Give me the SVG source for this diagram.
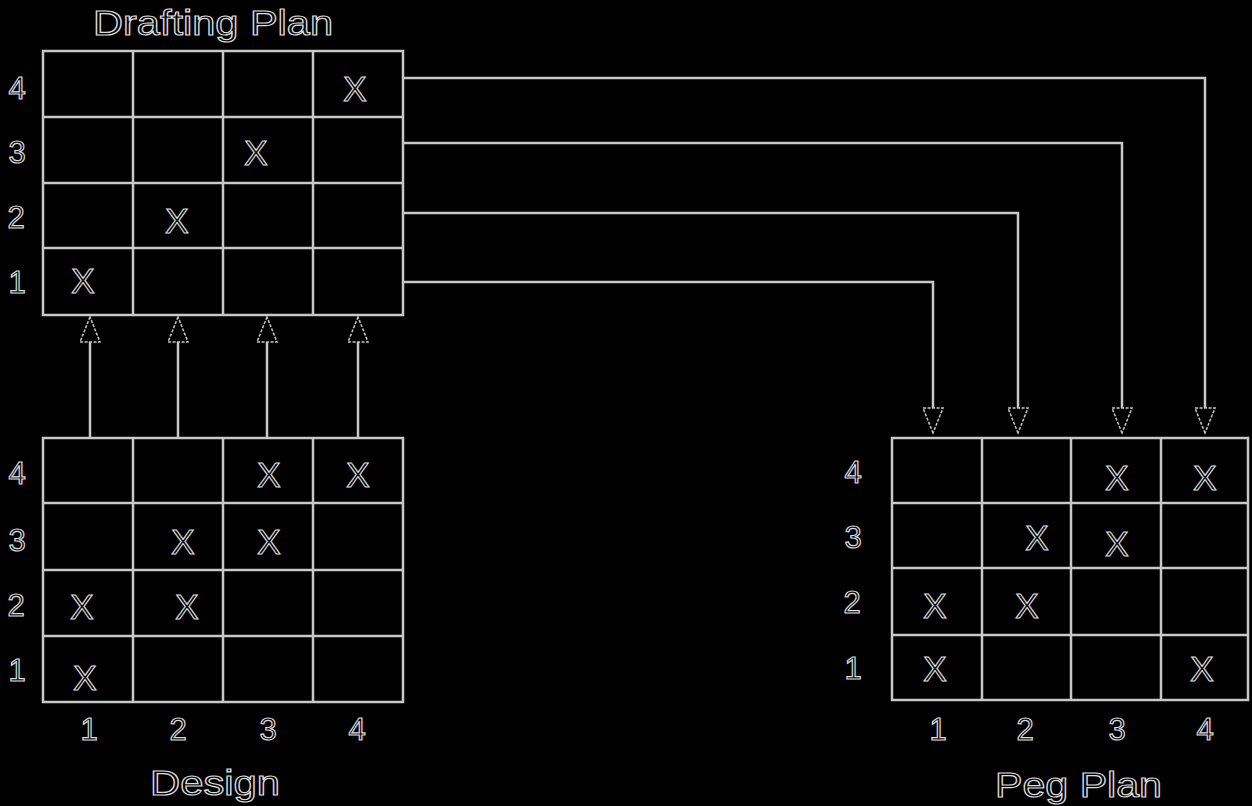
<svg xmlns="http://www.w3.org/2000/svg" width="1252" height="806" viewBox="0 0 1252 806">
<defs>
<style>
.g{fill:none;stroke:#c8c8c8;stroke-width:2.5}
.c{fill:none;stroke:#c8c8c8;stroke-width:2.5}
.ah{fill:#000;stroke:#c8c8c8;stroke-width:1.5;stroke-dasharray:3 1.5}
.t{font-family:"Liberation Sans",Arial,sans-serif;fill:#000;stroke:#dcdcdc;stroke-width:1.2}
.d{font-size:31px;text-anchor:middle;dominant-baseline:central}
.x{font-size:35px;text-anchor:middle;dominant-baseline:central}
.h{font-size:35px}
</style>
</defs>
<rect x="0" y="0" width="1252" height="806" fill="#000"/>

<g id="drafting-plan">
<text class="t h" x="93" y="35" textLength="240" lengthAdjust="spacingAndGlyphs">Drafting Plan</text>
<rect class="g" x="43" y="51" width="360" height="264"/>
<path class="g" d="M133 51V315M223 51V315M313 51V315M43 117H403M43 183H403M43 248H403"/>
<text class="t d" x="17" y="88">4</text>
<text class="t d" x="17" y="152">3</text>
<text class="t d" x="16" y="217">2</text>
<text class="t d" x="17" y="282">1</text>
<text class="t x" x="355" y="88">X</text>
<text class="t x" x="256" y="152">X</text>
<text class="t x" x="177" y="220">X</text>
<text class="t x" x="83" y="280">X</text>
</g>

<g id="design">
<rect class="g" x="43" y="438" width="360" height="264"/>
<path class="g" d="M133 438V702M223 438V702M313 438V702M43 503H403M43 570H403M43 636H403"/>
<text class="t d" x="17" y="473">4</text>
<text class="t d" x="17" y="540">3</text>
<text class="t d" x="16" y="605">2</text>
<text class="t d" x="17" y="670">1</text>
<text class="t x" x="269" y="474">X</text>
<text class="t x" x="358" y="474">X</text>
<text class="t x" x="183" y="541">X</text>
<text class="t x" x="269" y="541">X</text>
<text class="t x" x="82" y="606">X</text>
<text class="t x" x="187" y="606">X</text>
<text class="t x" x="85" y="677">X</text>
<text class="t d" x="89" y="729">1</text>
<text class="t d" x="178" y="729">2</text>
<text class="t d" x="268" y="729">3</text>
<text class="t d" x="357" y="729">4</text>
<text class="t h" x="150" y="795" textLength="130" lengthAdjust="spacingAndGlyphs">Design</text>
</g>

<g id="peg-plan">
<rect class="g" x="892" y="438" width="356" height="262"/>
<path class="g" d="M982 438V700M1071 438V700M1161 438V700M892 503H1248M892 568H1248M892 635H1248"/>
<text class="t d" x="853" y="472">4</text>
<text class="t d" x="853" y="537">3</text>
<text class="t d" x="852" y="602">2</text>
<text class="t d" x="853" y="668">1</text>
<text class="t x" x="1117" y="477">X</text>
<text class="t x" x="1205" y="477">X</text>
<text class="t x" x="1037" y="537">X</text>
<text class="t x" x="1117" y="543">X</text>
<text class="t x" x="935" y="605">X</text>
<text class="t x" x="1027" y="605">X</text>
<text class="t x" x="935" y="668">X</text>
<text class="t x" x="1202" y="668">X</text>
<text class="t d" x="938" y="729">1</text>
<text class="t d" x="1025" y="729">2</text>
<text class="t d" x="1117" y="729">3</text>
<text class="t d" x="1205" y="729">4</text>
<text class="t h" x="995" y="797" textLength="167" lengthAdjust="spacingAndGlyphs">Peg Plan</text>
</g>

<g id="connectors">
<path class="c" d="M90 438V342M178 438V342M267 438V342M358 438V342"/>
<path class="ah" d="M90 317L80 342H100Z"/>
<path class="ah" d="M178 317L168 342H188Z"/>
<path class="ah" d="M267 317L257 342H277Z"/>
<path class="ah" d="M358 317L348 342H368Z"/>
<path class="c" d="M403 78H1205V408M403 143H1122V408M403 213H1018V408M403 282H933V408"/>
<path class="ah" d="M1205 433L1195 408H1215Z"/>
<path class="ah" d="M1122 433L1112 408H1132Z"/>
<path class="ah" d="M1018 433L1008 408H1028Z"/>
<path class="ah" d="M933 433L923 408H943Z"/>
</g>
</svg>
